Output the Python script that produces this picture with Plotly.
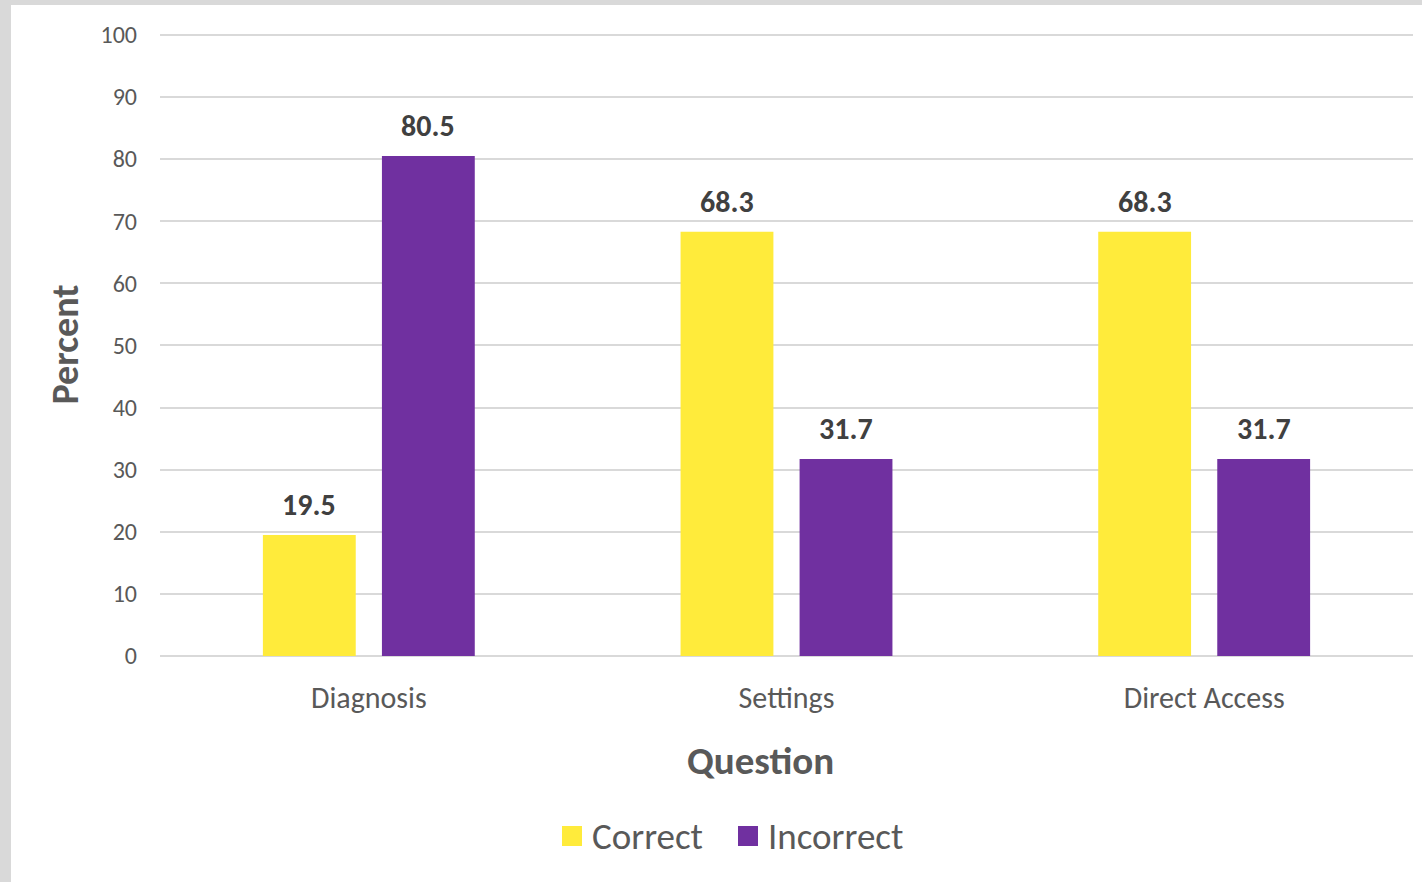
import plotly.graph_objects as go

categories = ["Diagnosis", "Settings", "Direct Access"]
correct = [19.5, 68.3, 68.3]
incorrect = [80.5, 31.7, 31.7]
series_names = ["Correct", "Incorrect"]
y_ticks = [0, 10, 20, 30, 40, 50, 60, 70, 80, 90, 100]

FONT = "Carlito, Calibri, Lato, sans-serif"
TEXT = "#595959"
W, H = 1422, 882
Y_MAX = 100.3
L, R, T, B = 160, 9, 33, 226
pw, ph = W - L - R, H - T - B


def px_x(p):
    return (p - L) / pw


def px_y(p):
    return (H - B - p) / ph


series = [(series_names[0], correct, "#FFEB3B"),
          (series_names[1], incorrect, "#7030A0")]

fig = go.Figure()
for name, vals, color in series:
    fig.add_trace(go.Bar(
        x=categories, y=vals, name=name, showlegend=False,
        marker=dict(color=color, line=dict(width=0)),
        offsetgroup=name,
    ))

# value labels above each bar
n = len(series)
for i, (name, vals, color) in enumerate(series):
    for j, (cat, v) in enumerate(zip(categories, vals)):
        fig.add_annotation(
            x=j + (i - (n - 1) / 2) * 0.285, y=v, xref="x", yref="y",
            text=f"<b>{v:.1f}</b>", showarrow=False, yanchor="bottom", yshift=10,
            font=dict(family=FONT, size=30, color="#404040"),
        )

# x-axis title
fig.add_annotation(
    x=px_x(760), y=px_y(760), xref="paper", yref="paper",
    text="<b>Question</b>", showarrow=False, xanchor="center", yanchor="middle",
    font=dict(family=FONT, size=39, color=TEXT),
)

# legend: square swatch + label per series
legend_x = [562, 738]
for (name, vals, color), x0 in zip(series, legend_x):
    fig.add_shape(type="rect", xref="paper", yref="paper",
                  x0=px_x(x0), x1=px_x(x0 + 20), y0=px_y(846), y1=px_y(826),
                  fillcolor=color, line=dict(width=0))
    fig.add_annotation(x=px_x(x0 + 28), y=px_y(836), xref="paper", yref="paper",
                       text=name, showarrow=False, xanchor="left", yanchor="middle",
                       font=dict(family=FONT, size=37, color=TEXT))

# white card over a light grey surround
fig.add_shape(type="rect", xref="paper", yref="paper", layer="below",
              x0=px_x(11), x1=px_x(W), y0=px_y(H) - 0.01, y1=px_y(5),
              fillcolor="white", line=dict(width=0))

fig.update_layout(
    width=W, height=H,
    margin=dict(l=L, r=R, t=T, b=B),
    paper_bgcolor="#D9D9D9", plot_bgcolor="rgba(0,0,0,0)",
    barmode="group", bargap=0.43, bargroupgap=0.22,
    font=dict(family=FONT, color=TEXT),
    showlegend=False,
    xaxis=dict(type="category", range=[-0.5, 2.5], showgrid=False, zeroline=False,
               showline=False, ticks="", ticklabelstandoff=21,
               tickfont=dict(family=FONT, size=30, color=TEXT)),
    yaxis=dict(range=[0, Y_MAX], tickvals=y_ticks, showgrid=True, gridcolor="#D9D9D9",
               gridwidth=1.5, zeroline=True, zerolinecolor="#D9D9D9", zerolinewidth=1.5,
               showline=False, ticks="", ticklabelstandoff=22,
               tickfont=dict(family=FONT, size=24, color=TEXT),
               title=dict(text="Percent", standoff=10,
                          font=dict(family=FONT, size=38, color=TEXT, weight="bold"))),
)

fig.write_html("out.html")
